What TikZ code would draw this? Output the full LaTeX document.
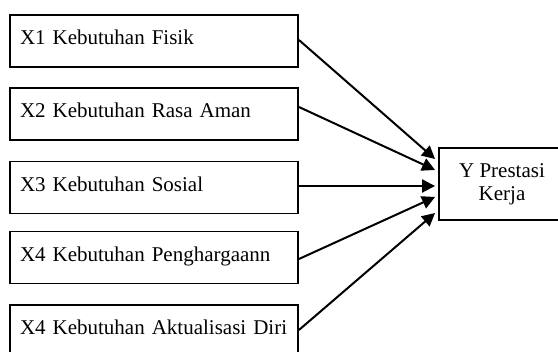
\documentclass[tikz,border=0pt]{standalone}
\usepackage{fontspec}
\setmainfont{Liberation Serif}
\usetikzlibrary{arrows.meta,calc}
\begin{document}
\begin{tikzpicture}[x=1pt,y=1pt,
  lbox/.style={draw=black, line width=1.9pt, minimum height=52pt, text width=268pt,
    inner xsep=10pt, inner ysep=0pt, align=left, text height=14pt, text depth=6pt,
    font=\fontsize{21}{22.7}\selectfont},
  ybox/.style={draw=black, line width=1.9pt, minimum width=126pt, minimum height=72pt,
    align=center, inner sep=0pt, font=\fontsize{21}{22.7}\selectfont},
  conn/.style={line width=2pt, -{Triangle[length=13pt,width=13pt]}}]
\useasboundingbox (0,0) rectangle (558,352);
\clip (0,0) rectangle (558,352);
% y_tikz = 352 - y_px
\node[lbox] (x1) at (154,311) {X1 Kebutuhan Fisik};
\node[lbox] (x2) at (154,238) {X2 Kebutuhan Rasa Aman};
\node[lbox] (x3) at (154,164.5) {X3 Kebutuhan Sosial};
\node[lbox] (x4) at (154,94.5) {X4 Kebutuhan Penghargaann};
\node[lbox] (x5) at (154,21) {X4 Kebutuhan Aktualisasi Diri};
\node[ybox] (y) at (502,168) {Y Prestasi\\Kerja};
\coordinate (s1) at ($(x1.east)+(0,1)$);
\coordinate (s2) at ($(x2.east)+(0,7)$);
\coordinate (s3) at ($(x3.east)+(0,1.5)$);
\coordinate (s4) at ($(x4.east)+(0,-1.5)$);
\coordinate (s5) at ($(x5.east)+(0,1)$);
\coordinate (t1) at ($(y.west)+(-3,25)$);
\coordinate (t2) at ($(y.west)+(-3,14)$);
\coordinate (t3) at ($(y.west)+(-3,-2)$);
\coordinate (t4) at ($(y.west)+(-3,-13)$);
\coordinate (t5) at ($(y.west)+(-3,-29)$);
\draw[conn] (s1) -- (t1);
\draw[conn] (s2) -- (t2);
\draw[conn] (s3) -- (t3);
\draw[conn] (s4) -- (t4);
\draw[conn] (s5) -- (t5);
\end{tikzpicture}
\end{document}
